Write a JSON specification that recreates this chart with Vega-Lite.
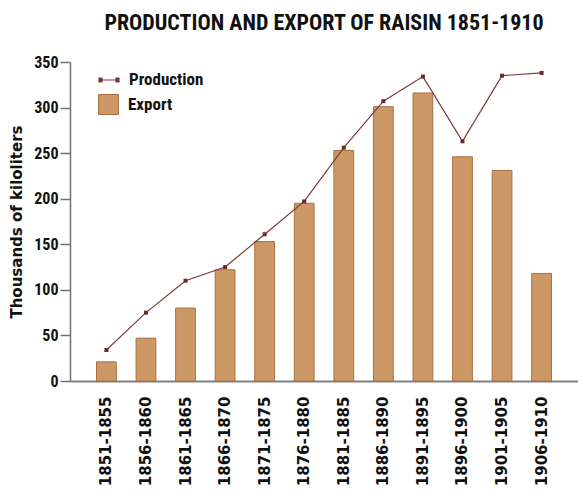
{
  "$schema": "https://vega.github.io/schema/vega-lite/v6.json",
  "width": 508,
  "height": 319,
  "autosize": "none",
  "padding": {"left": 70, "top": 62, "right": 0, "bottom": 118},
  "background": "white",
  "title": {
    "text": "PRODUCTION AND EXPORT OF RAISIN 1851-1910",
    "font": "Roboto Condensed, DejaVu Sans Condensed, Liberation Sans Narrow, Roboto",
    "fontSize": 22,
    "fontWeight": "bold",
    "color": "#111111",
    "anchor": "middle",
    "offset": 19
  },
  "config": {
    "view": {"stroke": null},
    "legend": {"padding": 0}
  },
  "data": {
    "values": [
      {"period": "1851-1855", "production": 34, "export": 21},
      {"period": "1856-1860", "production": 75, "export": 47},
      {"period": "1861-1865", "production": 110, "export": 80},
      {"period": "1866-1870", "production": 125, "export": 122},
      {"period": "1871-1875", "production": 161, "export": 153},
      {"period": "1876-1880", "production": 197, "export": 195},
      {"period": "1881-1885", "production": 256, "export": 253},
      {"period": "1886-1890", "production": 307, "export": 301},
      {"period": "1891-1895", "production": 334, "export": 316},
      {"period": "1896-1900", "production": 263, "export": 246},
      {"period": "1901-1905", "production": 335, "export": 231},
      {"period": "1906-1910", "production": 338, "export": 118}
    ]
  },
  "encoding": {
    "x": {
      "field": "period",
      "type": "ordinal",
      "sort": null,
      "scale": {"paddingInner": 0.5, "paddingOuter": 0.67},
      "axis": {
        "title": null,
        "ticks": false,
        "domainColor": "#808080",
        "domainWidth": 2,
        "labelAngle": -90,
        "labelAlign": "right",
        "labelBaseline": "middle",
        "labelPadding": 15,
        "labelFont": "DejaVu Sans",
        "labelFontWeight": "bold",
        "labelFontSize": 15,
        "labelColor": "#111111"
      }
    }
  },
  "layer": [
    {
      "mark": {"type": "bar", "stroke": "#A8703F", "strokeWidth": 1},
      "encoding": {
        "y": {
          "field": "export",
          "type": "quantitative",
          "scale": {"domain": [0, 350], "nice": false},
          "axis": {
            "title": "Thousands of kiloliters",
            "titleFont": "DejaVu Sans",
            "titleFontSize": 15,
            "titleFontWeight": "bold",
            "titleColor": "#111111",
            "titlePadding": 9,
            "grid": false,
            "values": [0, 25, 50, 75, 100, 125, 150, 175, 200, 225, 250, 275, 300, 325, 350],
            "labelExpr": "datum.value % 50 == 0 ? datum.label : ''",
            "domainColor": "#707070",
            "domainWidth": 1.5,
            "tickColor": "#707070",
            "tickWidth": 1.5,
            "tickSize": 10,
            "labelPadding": 2,
            "labelFont": "Roboto Condensed, DejaVu Sans Condensed, Liberation Sans Narrow, Roboto",
            "labelFontWeight": "bold",
            "labelFontSize": 16,
            "labelColor": "#111111"
          }
        },
        "fill": {
          "datum": "Export",
          "scale": {"range": ["#CC9966"]},
          "legend": {
            "title": null,
            "orient": "none",
            "legendX": 28,
            "legendY": 32,
            "symbolType": "square",
            "symbolSize": 400,
            "symbolStrokeColor": "#A8703F",
            "symbolStrokeWidth": 1,
            "symbolOpacity": 1,
            "labelFont": "Roboto Condensed, DejaVu Sans Condensed, Liberation Sans Narrow, Roboto",
            "labelFontWeight": "bold",
            "labelFontSize": 17,
            "labelColor": "#111111",
            "labelOffset": 9
          }
        }
      }
    },
    {
      "mark": {"type": "line", "strokeWidth": 1.2},
      "encoding": {
        "y": {"field": "production", "type": "quantitative"},
        "stroke": {
          "datum": "Production",
          "scale": {"range": ["#7A3B3B"]},
          "legend": {
            "title": null,
            "orient": "none",
            "legendX": 28,
            "legendY": 7,
            "symbolType": "M-1,0H1M-1,-0.2h0.3v0.4h-0.3zM0.7,-0.2h0.3v0.4h-0.3z",
            "symbolSize": 400,
            "symbolFillColor": "#6B2A2A",
            "symbolStrokeWidth": 1.2,
            "labelFont": "Roboto Condensed, DejaVu Sans Condensed, Liberation Sans Narrow, Roboto",
            "labelFontWeight": "bold",
            "labelFontSize": 17,
            "labelColor": "#111111",
            "labelOffset": 9
          }
        }
      }
    },
    {
      "mark": {"type": "point", "shape": "square", "filled": true, "size": 16, "color": "#6B2A2A", "opacity": 1},
      "encoding": {
        "y": {"field": "production", "type": "quantitative"}
      }
    }
  ]
}
